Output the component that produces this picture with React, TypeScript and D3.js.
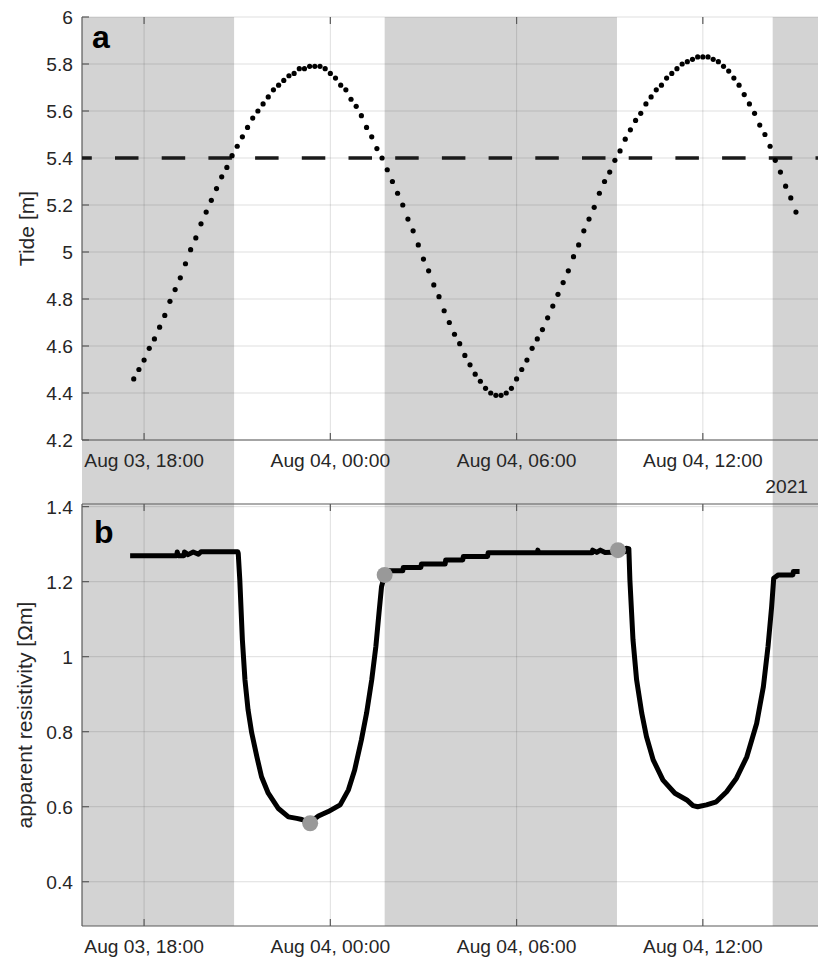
import React from "react";
import * as d3 from "d3";

// ---------- data ----------
const tideStart = "2021-08-03 17:40";
const tideStepMinutes = 10;
const tideValues = [
  4.46, 4.5, 4.54, 4.59, 4.63, 4.68, 4.73, 4.79, 4.84, 4.89, 4.95, 5.01, 5.06, 5.12, 5.17, 5.22,
  5.27, 5.32, 5.36, 5.41, 5.45, 5.49, 5.53, 5.57, 5.6, 5.63, 5.66, 5.69, 5.71, 5.73, 5.75, 5.76,
  5.78, 5.78, 5.79, 5.79, 5.79, 5.78, 5.76, 5.74, 5.71, 5.69, 5.65, 5.62, 5.58, 5.53, 5.49, 5.44,
  5.4, 5.35, 5.3, 5.25, 5.2, 5.14, 5.09, 5.03, 4.97, 4.92, 4.86, 4.81, 4.75, 4.7, 4.65, 4.61,
  4.56, 4.52, 4.48, 4.45, 4.42, 4.4, 4.39, 4.39, 4.4, 4.42, 4.46, 4.5, 4.54, 4.59, 4.63, 4.67,
  4.72, 4.77, 4.82, 4.87, 4.92, 4.98, 5.03, 5.09, 5.14, 5.19, 5.25, 5.3, 5.34, 5.39, 5.43, 5.48,
  5.52, 5.56, 5.59, 5.63, 5.66, 5.69, 5.71, 5.74, 5.76, 5.78, 5.8, 5.81, 5.82, 5.83, 5.83, 5.83,
  5.82, 5.81, 5.79, 5.77, 5.74, 5.71, 5.67, 5.63, 5.59, 5.54, 5.5, 5.45, 5.39, 5.34, 5.28, 5.23,
  5.17,
];
const tideThreshold = 5.4;

const resTimes = [
  "2021-08-03 17:33", "2021-08-03 19:03", "2021-08-03 19:04", "2021-08-03 19:06", "2021-08-03 19:17",
  "2021-08-03 19:18", "2021-08-03 19:25", "2021-08-03 19:35", "2021-08-03 19:45", "2021-08-03 19:50",
  "2021-08-03 21:01", "2021-08-03 21:02", "2021-08-03 21:05", "2021-08-03 21:10", "2021-08-03 21:15",
  "2021-08-03 21:21", "2021-08-03 21:28", "2021-08-03 21:38", "2021-08-03 21:47", "2021-08-03 22:00",
  "2021-08-03 22:19", "2021-08-03 22:39", "2021-08-03 22:55", "2021-08-03 23:05", "2021-08-03 23:12",
  "2021-08-03 23:21", "2021-08-03 23:28", "2021-08-03 23:37", "2021-08-03 23:56", "2021-08-04 00:19",
  "2021-08-04 00:35", "2021-08-04 00:47", "2021-08-04 01:00", "2021-08-04 01:10", "2021-08-04 01:20",
  "2021-08-04 01:28", "2021-08-04 01:34", "2021-08-04 01:39", "2021-08-04 01:45", "2021-08-04 01:47",
  "2021-08-04 02:20", "2021-08-04 02:21", "2021-08-04 02:55", "2021-08-04 02:56", "2021-08-04 03:42",
  "2021-08-04 03:43", "2021-08-04 04:16", "2021-08-04 04:17", "2021-08-04 05:04", "2021-08-04 05:05",
  "2021-08-04 06:40", "2021-08-04 06:41", "2021-08-04 06:43", "2021-08-04 08:26", "2021-08-04 08:27",
  "2021-08-04 08:35", "2021-08-04 08:42", "2021-08-04 08:51", "2021-08-04 09:30", "2021-08-04 09:32",
  "2021-08-04 09:37", "2021-08-04 09:39", "2021-08-04 09:45", "2021-08-04 09:52", "2021-08-04 10:02",
  "2021-08-04 10:11", "2021-08-04 10:24", "2021-08-04 10:43", "2021-08-04 11:06", "2021-08-04 11:29",
  "2021-08-04 11:41", "2021-08-04 11:50", "2021-08-04 12:07", "2021-08-04 12:26", "2021-08-04 12:46",
  "2021-08-04 13:05", "2021-08-04 13:25", "2021-08-04 13:44", "2021-08-04 13:57", "2021-08-04 14:06",
  "2021-08-04 14:13", "2021-08-04 14:17", "2021-08-04 14:26", "2021-08-04 14:54", "2021-08-04 14:55",
  "2021-08-04 15:07",
];
const resValues = [
  1.269, 1.269, 1.279, 1.269, 1.269,
  1.279, 1.272, 1.279, 1.273, 1.28,
  1.28, 1.275, 1.205, 1.045, 0.938,
  0.858, 0.797, 0.733, 0.68, 0.636,
  0.596, 0.573, 0.569, 0.566, 0.562,
  0.556, 0.566, 0.575, 0.587, 0.605,
  0.645, 0.698, 0.778, 0.849, 0.938,
  1.027, 1.116, 1.187, 1.218, 1.229,
  1.229, 1.238, 1.238, 1.247, 1.247,
  1.258, 1.258, 1.267, 1.267, 1.277,
  1.277, 1.284, 1.277, 1.277, 1.284,
  1.278, 1.284, 1.278, 1.28, 1.289,
  1.288, 1.205, 1.045, 0.938, 0.849,
  0.787, 0.725, 0.671, 0.636, 0.618,
  0.603, 0.6, 0.605, 0.613, 0.64,
  0.676, 0.733, 0.822, 0.92, 1.027,
  1.133, 1.209, 1.218, 1.218, 1.227,
  1.227,
];
const markerTimes = ["2021-08-03 23:21", "2021-08-04 01:45", "2021-08-04 09:16"];
const markerValues = [0.556, 1.218, 1.284];

const shadeStarts = ["2021-08-03 16:00", "2021-08-04 01:45", "2021-08-04 14:15"];
const shadeEnds = ["2021-08-03 20:54", "2021-08-04 09:14", "2021-08-04 16:00"];

const xDomain = ["2021-08-03 16:00", "2021-08-04 16:00"];
const xTickTimes = ["2021-08-03 18:00", "2021-08-04 00:00", "2021-08-04 06:00", "2021-08-04 12:00"];
const yearLabel = "2021";
const tideTicks = [4.2, 4.4, 4.6, 4.8, 5, 5.2, 5.4, 5.6, 5.8, 6];
const tideDomain = [4.2, 6];
const resTicks = [0.4, 0.6, 0.8, 1, 1.2, 1.4];
const resDomain = [0.282, 1.407];

// ---------- layout ----------
const W = 818;
const H = 961;
const L = 82;
const R = 827;
const aTop = 17;
const aBot = 440;
const bTop = 504;
const bBot = 926;
const FONT = "'Liberation Sans', Arial, Helvetica, sans-serif";
const FS = 19.2;
const FSL = 21.1;
const TXT = "#262626";
const AX = "#5a5a5a";

const parse = d3.timeParse("%Y-%m-%d %H:%M");
const fmt = d3.timeFormat("%b %d, %H:%M");

export default function App() {
  const x = d3.scaleTime().domain(xDomain.map((s) => parse(s) as Date)).range([L, R]);
  const yA = d3.scaleLinear().domain(tideDomain).range([aBot, aTop]);
  const yB = d3.scaleLinear().domain(resDomain).range([bBot, bTop]);

  const t0 = (parse(tideStart) as Date).getTime();
  const tide = tideValues.map((v, i) => ({ t: new Date(t0 + i * tideStepMinutes * 60000), v }));
  const res = resTimes.map((s, i) => ({ t: parse(s) as Date, v: resValues[i] }));
  const markers = markerTimes.map((s, i) => ({ t: parse(s) as Date, v: markerValues[i] }));
  const ticks = xTickTimes.map((s) => parse(s) as Date);

  const resLine = d3
    .line<{ t: Date; v: number }>()
    .x((d) => x(d.t))
    .y((d) => yB(d.v));

  const gridColor = "#262626";
  const gridOp = 0.15;
  const tickLen = 7;

  const xAxisLabels = (yBase: number) =>
    ticks.map((t, i) => (
      <text key={i} x={x(t)} y={yBase} textAnchor="middle" fontSize={FS} fill={TXT} fontFamily={FONT}>
        {fmt(t)}
      </text>
    ));

  return (
    <svg width={W} height={H} style={{ position: "absolute", left: 0, top: 0, background: "#fff" }}>
      <defs>
        <clipPath id="clipA">
          <rect x={L} y={aTop - 5} width={R - L} height={aBot - aTop + 5} />
        </clipPath>
        <clipPath id="clipB">
          <rect x={L} y={bTop} width={R - L} height={bBot - bTop} />
        </clipPath>
      </defs>
      <rect x={0} y={0} width={W} height={H} fill="#fff" />

      {/* shading */}
      {shadeStarts.map((s, i) => {
        const x0 = x(parse(s) as Date);
        const x1 = x(parse(shadeEnds[i]) as Date);
        return <rect key={i} x={x0} y={aTop} width={x1 - x0} height={bBot - aTop} fill="#d3d3d3" />;
      })}

      {/* grids */}
      <g stroke={gridColor} strokeOpacity={gridOp} strokeWidth={1}>
        {tideTicks.map((v, i) => (
          <line key={"ga" + i} x1={L} x2={R} y1={yA(v)} y2={yA(v)} />
        ))}
        {ticks.map((t, i) => (
          <line key={"gva" + i} x1={x(t)} x2={x(t)} y1={aTop} y2={aBot} />
        ))}
        {resTicks.map((v, i) => (
          <line key={"gb" + i} x1={L} x2={R} y1={yB(v)} y2={yB(v)} />
        ))}
        {ticks.map((t, i) => (
          <line key={"gvb" + i} x1={x(t)} x2={x(t)} y1={bTop} y2={bBot} />
        ))}
      </g>

      {/* axes lines & ticks */}
      <g stroke={AX} strokeWidth={1.2} fill="none">
        <line x1={L} x2={L} y1={aTop} y2={aBot} />
        <line x1={L} x2={R} y1={aBot} y2={aBot} />
        <line x1={L} x2={L} y1={bTop} y2={bBot} />
        <line x1={L} x2={R} y1={bTop} y2={bTop} />
        <line x1={L} x2={R} y1={bBot} y2={bBot} />
        {ticks.map((t, i) => (
          <g key={"tk" + i}>
            <line x1={x(t)} x2={x(t)} y1={aTop} y2={aTop + tickLen} />
            <line x1={x(t)} x2={x(t)} y1={aBot} y2={aBot - tickLen} />
            <line x1={x(t)} x2={x(t)} y1={bTop} y2={bTop + tickLen} />
            <line x1={x(t)} x2={x(t)} y1={bBot} y2={bBot - tickLen} />
          </g>
        ))}
        {tideTicks.map((v, i) => (
          <line key={"tya" + i} x1={L} x2={L + tickLen} y1={yA(v)} y2={yA(v)} />
        ))}
        {resTicks.map((v, i) => (
          <line key={"tyb" + i} x1={L} x2={L + tickLen} y1={yB(v)} y2={yB(v)} />
        ))}
      </g>

      {/* panel a data */}
      <g clipPath="url(#clipA)">
        <line
          x1={L}
          x2={R}
          y1={yA(tideThreshold)}
          y2={yA(tideThreshold)}
          stroke="#1a1a1a"
          strokeWidth={3.6}
          strokeDasharray="23.5 23.2"
          strokeDashoffset={13.7}
        />
        {tide.map((d, i) => (
          <circle key={i} cx={x(d.t)} cy={yA(d.v)} r={2.6} fill="#000" />
        ))}
      </g>

      {/* panel b data */}
      <g clipPath="url(#clipB)">
        <path d={resLine(res) || ""} fill="none" stroke="#000" strokeWidth={5} strokeLinejoin="round" strokeLinecap="butt" />
        {markers.map((d, i) => (
          <circle key={i} cx={x(d.t)} cy={yB(d.v)} r={8} fill="#999999" />
        ))}
      </g>

      {/* tick labels */}
      {tideTicks.map((v, i) => (
        <text key={"la" + i} x={73} y={yA(v)} dy="0.36em" textAnchor="end" fontSize={FS} fill={TXT} fontFamily={FONT}>
          {String(v)}
        </text>
      ))}
      {resTicks.map((v, i) => (
        <text key={"lb" + i} x={73} y={yB(v)} dy="0.36em" textAnchor="end" fontSize={FS} fill={TXT} fontFamily={FONT}>
          {String(v)}
        </text>
      ))}
      {xAxisLabels(aBot + 27)}
      {xAxisLabels(bBot + 27)}
      <text x={808} y={493} textAnchor="end" fontSize={FS} fill={TXT} fontFamily={FONT}>
        {yearLabel}
      </text>

      {/* axis titles */}
      <text
        transform={`translate(34, ${(aTop + aBot) / 2}) rotate(-90)`}
        textAnchor="middle"
        fontSize={FSL}
        fill={TXT}
        fontFamily={FONT}
      >
        Tide [m]
      </text>
      <text
        transform={`translate(32, ${(bTop + bBot) / 2}) rotate(-90)`}
        textAnchor="middle"
        fontSize={FSL}
        fill={TXT}
        fontFamily={FONT}
      >
        apparent resistivity [Ωm]
      </text>

      {/* panel letters */}
      <text x={92} y={48} fontSize={32} fontWeight="bold" fill="#000" fontFamily={FONT}>
        a
      </text>
      <text x={94} y={543} fontSize={32} fontWeight="bold" fill="#000" fontFamily={FONT}>
        b
      </text>
    </svg>
  );
}
